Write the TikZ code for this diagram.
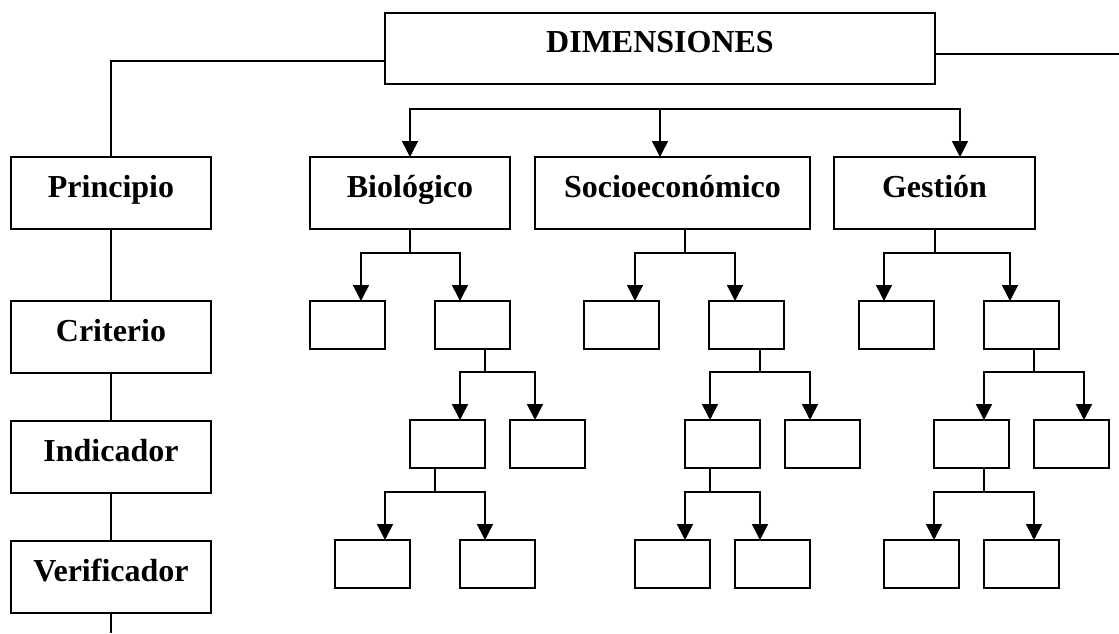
\documentclass[tikz,border=0pt]{standalone}
\usepackage{fontspec}
\setmainfont{Liberation Serif}
\usetikzlibrary{arrows.meta}
\tikzset{
  ln/.style={line width=1.6pt},
  arr/.style={ln,-{Triangle[width=16pt,length=16pt]}},
  bigbox/.style={draw,line width=1.6pt,anchor=north west,inner sep=0pt,outer sep=0pt,
    minimum height=72pt,font=\bfseries\fontsize{32}{32}\selectfont,text height=21pt,text depth=13pt},
  smallbox/.style={draw,line width=1.6pt,anchor=north west,inner sep=0pt,outer sep=0pt,
    minimum width=75pt,minimum height=48pt}
}
\begin{document}
\begin{tikzpicture}[x=1pt,y=-1pt]
\useasboundingbox (0,0) rectangle (1119,633);
% main boxes
\node[bigbox,minimum width=550pt,minimum height=71pt] (dim) at (385,13) {DIMENSIONES};
\node[bigbox,minimum width=200pt] (prin) at (11,157) {Principio};
\node[bigbox,minimum width=200pt] (crit) at (11,301) {Criterio};
\node[bigbox,minimum width=200pt] (ind) at (11,421) {Indicador};
\node[bigbox,minimum width=200pt] (ver) at (11,541) {Verificador};
\node[bigbox,minimum width=200pt] (bio) at (310,157) {Biológico};
\node[bigbox,minimum width=275pt] (soc) at (535,157) {Socioeconómico};
\node[bigbox,minimum width=201pt] (ges) at (834,157) {Gestión};
% level 2
\node[smallbox] (b1) at (310,301) {};
\node[smallbox] (b2) at (435,301) {};
\node[smallbox] (s1) at (584,301) {};
\node[smallbox] (s2) at (709,301) {};
\node[smallbox] (g1) at (859,301) {};
\node[smallbox] (g2) at (984,301) {};
% level 3
\node[smallbox] (b21) at (410,420) {};
\node[smallbox] (b22) at (510,420) {};
\node[smallbox] (s21) at (685,420) {};
\node[smallbox] (s22) at (785,420) {};
\node[smallbox] (g21) at (934,420) {};
\node[smallbox] (g22) at (1034,420) {};
% level 4
\node[smallbox] (b211) at (335,540) {};
\node[smallbox] (b212) at (460,540) {};
\node[smallbox] (s211) at (635,540) {};
\node[smallbox] (s212) at (735,540) {};
\node[smallbox] (g211) at (884,540) {};
\node[smallbox] (g212) at (984,540) {};
% left column
\draw[ln] ([yshift=-48pt]dim.north west) -| (prin.north);
\coordinate (rend) at (1119,54);
\draw[ln] ([yshift=-41pt]dim.north east) -- (rend);
\draw[ln] (prin.south) -- (crit.north);
\draw[ln] (crit.south) -- (ind.north);
\draw[ln] (ind.south) -- (ver.north);
\coordinate (vend) at (111,633);
\draw[ln] (ver.south) -- (vend);
% top distribution
\coordinate (top) at ([yshift=-25pt]dim.south);
\draw[arr] (top) -| (bio.north);
\draw[arr] (top) -- (top |- soc.north);
\draw[arr] (top) -| ([xshift=126pt]ges.north west);
% level 1 -> 2
\draw[ln] (bio.south) -- ++(0,24) coordinate (bj);
\draw[arr] (bj) -| ([xshift=51pt]b1.north west);
\draw[arr] (bj) -| ([xshift=25pt]b2.north west);
\draw[ln] ([xshift=150pt]soc.south west) -- ++(0,24) coordinate (sj);
\draw[arr] (sj) -| ([xshift=51pt]s1.north west);
\draw[arr] (sj) -| ([xshift=26pt]s2.north west);
\draw[ln] ([xshift=101pt]ges.south west) -- ++(0,24) coordinate (gj);
\draw[arr] (gj) -| ([xshift=25pt]g1.north west);
\draw[arr] (gj) -| ([xshift=26pt]g2.north west);
% level 2 -> 3
\draw[ln] ([xshift=50pt]b2.south west) -- ++(0,23) coordinate (bj2);
\draw[arr] (bj2) -| ([xshift=50pt]b21.north west);
\draw[arr] (bj2) -| ([xshift=25pt]b22.north west);
\draw[ln] ([xshift=51pt]s2.south west) -- ++(0,23) coordinate (sj2);
\draw[arr] (sj2) -| ([xshift=25pt]s21.north west);
\draw[arr] (sj2) -| ([xshift=25pt]s22.north west);
\draw[ln] ([xshift=50pt]g2.south west) -- ++(0,23) coordinate (gj2);
\draw[arr] (gj2) -| ([xshift=50pt]g21.north west);
\draw[arr] (gj2) -| ([xshift=50pt]g22.north west);
% level 3 -> 4
\draw[ln] ([xshift=25pt]b21.south west) -- ++(0,24) coordinate (bj3);
\draw[arr] (bj3) -| ([xshift=50pt]b211.north west);
\draw[arr] (bj3) -| ([xshift=25pt]b212.north west);
\draw[ln] ([xshift=25pt]s21.south west) -- ++(0,24) coordinate (sj3);
\draw[arr] (sj3) -| ([xshift=50pt]s211.north west);
\draw[arr] (sj3) -| ([xshift=25pt]s212.north west);
\draw[ln] ([xshift=50pt]g21.south west) -- ++(0,24) coordinate (gj3);
\draw[arr] (gj3) -| ([xshift=50pt]g211.north west);
\draw[arr] (gj3) -| ([xshift=50pt]g212.north west);
\end{tikzpicture}
\end{document}
